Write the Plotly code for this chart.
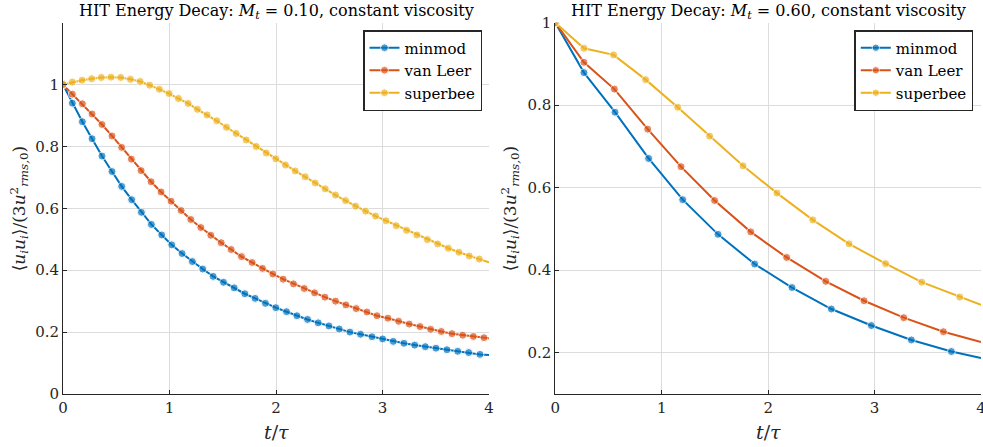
import plotly.graph_objects as go

# ---- Left panel: M_t = 0.10 ----
L_minmod_t = [0, 0.088, 0.182, 0.273, 0.366, 0.460, 0.551, 0.645, 0.736, 0.830, 0.927, 1.021, 1.118,
              1.215, 1.312, 1.410, 1.507, 1.607, 1.707, 1.804, 1.901, 1.998, 2.099, 2.196, 2.296, 2.396,
              2.497, 2.594, 2.694, 2.794, 2.901, 3.001, 3.101, 3.201, 3.302, 3.402, 3.502, 3.605, 3.706,
              3.809, 3.915, 4.0]
L_minmod_e = [1.000, 0.940, 0.880, 0.825, 0.769, 0.719, 0.671, 0.628, 0.587, 0.548, 0.514, 0.482, 0.454,
              0.428, 0.404, 0.380, 0.361, 0.343, 0.324, 0.309, 0.293, 0.279, 0.266, 0.253, 0.241, 0.230,
              0.220, 0.210, 0.200, 0.193, 0.185, 0.178, 0.170, 0.164, 0.158, 0.153, 0.148, 0.143, 0.138,
              0.134, 0.128, 0.126]
L_vanleer_t = [0, 0.088, 0.182, 0.273, 0.366, 0.460, 0.551, 0.642, 0.733, 0.827, 0.921, 1.015, 1.109,
               1.200, 1.294, 1.388, 1.485, 1.579, 1.676, 1.776, 1.873, 1.970, 2.067, 2.164, 2.265, 2.362,
               2.459, 2.559, 2.656, 2.753, 2.854, 2.948, 3.051, 3.151, 3.251, 3.352, 3.452, 3.552, 3.652,
               3.753, 3.853, 3.953, 4.0]
L_vanleer_e = [1.000, 0.969, 0.938, 0.905, 0.871, 0.834, 0.797, 0.759, 0.722, 0.686, 0.653, 0.623, 0.593,
               0.564, 0.538, 0.513, 0.489, 0.467, 0.444, 0.425, 0.406, 0.388, 0.371, 0.356, 0.341, 0.327,
               0.313, 0.300, 0.288, 0.276, 0.265, 0.253, 0.245, 0.235, 0.226, 0.218, 0.209, 0.202, 0.195,
               0.190, 0.186, 0.182, 0.180]
L_superbee_t = [0, 0.088, 0.179, 0.269, 0.360, 0.451, 0.542, 0.633, 0.724, 0.814, 0.905, 0.996, 1.084,
                1.175, 1.262, 1.353, 1.444, 1.535, 1.626, 1.720, 1.814, 1.908, 1.998, 2.089, 2.180, 2.274,
                2.368, 2.462, 2.559, 2.653, 2.747, 2.841, 2.935, 3.032, 3.129, 3.226, 3.323, 3.421, 3.518,
                3.618, 3.718, 3.815, 3.909, 4.0]
L_superbee_e = [1.000, 1.008, 1.014, 1.019, 1.023, 1.024, 1.023, 1.017, 1.010, 0.998, 0.985, 0.971, 0.955,
                0.939, 0.920, 0.902, 0.883, 0.862, 0.842, 0.821, 0.800, 0.779, 0.760, 0.740, 0.721, 0.702,
                0.682, 0.663, 0.643, 0.625, 0.607, 0.591, 0.575, 0.560, 0.544, 0.529, 0.514, 0.499, 0.485,
                0.471, 0.458, 0.446, 0.436, 0.426]

# ---- Right panel: M_t = 0.60 ----
R_minmod_t = [0, 0.269, 0.561, 0.877, 1.197, 1.529, 1.873, 2.224, 2.594, 2.970, 3.346, 3.722, 4.0]
R_minmod_e = [1.000, 0.879, 0.783, 0.671, 0.571, 0.487, 0.415, 0.358, 0.306, 0.266, 0.231, 0.203, 0.187]
R_vanleer_t = [0, 0.269, 0.555, 0.868, 1.181, 1.497, 1.836, 2.174, 2.541, 2.901, 3.274, 3.647, 4.0]
R_vanleer_e = [1.000, 0.904, 0.839, 0.742, 0.651, 0.569, 0.493, 0.431, 0.373, 0.326, 0.285, 0.251, 0.226]
R_superbee_t = [0, 0.269, 0.548, 0.849, 1.150, 1.450, 1.764, 2.083, 2.419, 2.760, 3.104, 3.443, 3.800, 4.0]
R_superbee_e = [1.000, 0.938, 0.922, 0.862, 0.795, 0.725, 0.653, 0.587, 0.522, 0.464, 0.416, 0.371, 0.335, 0.316]

names = ["minmod", "van Leer", "superbee"]
colors = ["#0072BD", "#D95319", "#EDB120"]
x_ticks = [0, 1, 2, 3, 4]
x_ticklabels = ["0", "1", "2", "3", "4"]
yL_ticks = [0, 0.2, 0.4, 0.6, 0.8, 1.0]
yL_ticklabels = ["0", "0.2", "0.4", "0.6", "0.8", "1"]
yR_ticks = [0.2, 0.4, 0.6, 0.8, 1.0]
yR_ticklabels = ["0.2", "0.4", "0.6", "0.8", "1"]
titles = ["HIT Energy Decay: <i>M<sub>t</sub></i> = 0.10, constant viscosity",
          "HIT Energy Decay: <i>M<sub>t</sub></i> = 0.60, constant viscosity"]

FONT = "DejaVu Serif"
W, H = 983, 447
fig = go.Figure()

left = [(L_minmod_t, L_minmod_e), (L_vanleer_t, L_vanleer_e), (L_superbee_t, L_superbee_e)]
right = [(R_minmod_t, R_minmod_e), (R_vanleer_t, R_vanleer_e), (R_superbee_t, R_superbee_e)]

for panel, data, xa, ya, lg in [(0, left, "x", "y", "legend"), (1, right, "x2", "y2", "legend2")]:
    for i, (t, e) in enumerate(data):
        sizes = [8] * (len(t) - 1) + [0]
        fig.add_trace(go.Scatter(x=t, y=e, mode="lines+markers", name=names[i],
                                 line=dict(color=colors[i], width=2),
                                 marker=dict(color=colors[i], size=sizes),
                                 xaxis=xa, yaxis=ya, legend=lg))

ydom = [1 - 394 / H, 1 - 22.7 / H]
xdomL = [63 / W, 489 / W]
xdomR = [555.3 / W, 981 / W]

axis_common = dict(showline=True, linecolor="#262626", linewidth=1, mirror=False,
                   ticks="inside", ticklen=4, tickcolor="#262626", automargin=False,
                   showgrid=True, gridcolor="#dcdcdc", gridwidth=1, zeroline=False,
                   tickfont=dict(family=FONT, size=15, color="#262626"))

legend_common = dict(bgcolor="white", bordercolor="#262626", borderwidth=1.5,
                     font=dict(family=FONT, size=15, color="#000000"),
                     xanchor="right", yanchor="top", tracegroupgap=0,
                     itemwidth=30)

fig.update_layout(
    template="none",
    width=W, height=H,
    margin=dict(l=0, r=0, t=0, b=0, autoexpand=False),
    paper_bgcolor="white", plot_bgcolor="white",
    xaxis=dict(domain=xdomL, range=[0, 4], tickvals=x_ticks, ticktext=x_ticklabels,
               anchor="y", ticklabeloverflow="allow", **axis_common),
    yaxis=dict(domain=ydom, range=[0, 1.2], tickvals=yL_ticks, ticktext=yL_ticklabels,
               anchor="x", **axis_common),
    xaxis2=dict(domain=xdomR, range=[0, 4], tickvals=x_ticks, ticktext=x_ticklabels,
                anchor="y2", ticklabeloverflow="allow", **axis_common),
    yaxis2=dict(domain=ydom, range=[0.1, 1.0], tickvals=yR_ticks, ticktext=yR_ticklabels,
                anchor="x2", **axis_common),
    legend=dict(x=482 / W, y=1 - 30 / H, **legend_common),
    legend2=dict(x=973.3 / W, y=1 - 30 / H, **legend_common),
    showlegend=True,
)

ylabel = "⟨<i>u<sub>i</sub>u<sub>i</sub></i>⟩/(3<i>u</i><sup>2</sup><sub><i>rms,</i>0</sub>)"
xlabel = "<i>t</i>/<i>τ</i>"
for k, (xr, yr, xlab) in enumerate([("x domain", "y domain", 19), ("x2 domain", "y2 domain", 510)]):
    fig.add_annotation(text=titles[k], xref=xr, yref="paper", x=0.5, y=1 - 11 / H,
                       showarrow=False, font=dict(family=FONT, size=16, color="#000000"),
                       xanchor="center", yanchor="middle")
    fig.add_annotation(text=xlabel, xref=xr, yref="paper", x=0.5, y=1 - 432 / H,
                       showarrow=False, font=dict(family=FONT, size=19, color="#262626"),
                       xanchor="center", yanchor="middle")
    fig.add_annotation(text=ylabel, xref="paper", yref=yr, x=xlab / W, y=0.5,
                       showarrow=False, textangle=-90,
                       font=dict(family=FONT, size=17, color="#262626"),
                       xanchor="center", yanchor="middle")

fig.write_html("out.html", config={"displayModeBar": False},
               post_script="document.body.style.margin='0';document.body.style.padding='0';"
                           "document.body.style.overflow='hidden';")
